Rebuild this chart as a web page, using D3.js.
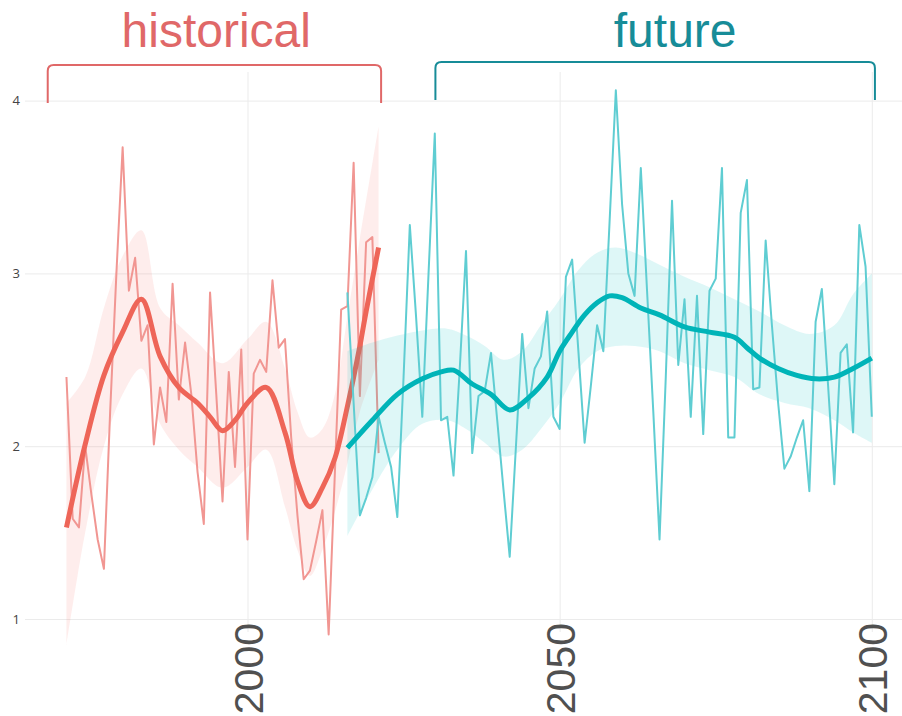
<!DOCTYPE html>
<html>
<head>
<meta charset="utf-8">
<script src="https://cdn.jsdelivr.net/npm/d3@7"></script>
<style>
  html, body { margin: 0; padding: 0; background: #fff; }
  svg { display: block; }
</style>
</head>
<body>
<svg id="chart" width="902" height="716"></svg>
<script>
// ---- historical series (annual values) ----
const histYears = d3.range(1971, 2022);
const histValues = [
  2.40, 1.58, 1.53, 2.00, 1.72, 1.46, 1.29, 2.20, 3.00, 3.73,
  2.90, 3.09, 2.61, 2.70, 2.01, 2.34, 2.14, 2.94, 2.27, 2.60,
  2.30, 1.85, 1.55, 2.89, 2.30, 1.68, 2.43, 1.88, 2.56, 1.46,
  2.42, 2.50, 2.43, 2.96, 2.57, 2.62, 2.05, 1.60, 1.23, 1.28,
  1.45, 1.63, 0.91, 1.85, 2.79, 2.81, 3.64, 2.29, 3.18, 3.21,
  1.96
];
// smoothed trend and its confidence band
const histSmoothYears = [1971, 1974, 1977, 1980, 1983, 1986, 1989, 1992, 1994, 1996, 1998, 2000, 2003, 2006, 2008, 2010, 2012, 2014, 2016, 2018, 2019, 2021];
const histSmoothValues = [1.53, 2.01, 2.41, 2.66, 2.85, 2.52, 2.34, 2.25, 2.17, 2.09, 2.15, 2.25, 2.34, 2.08, 1.80, 1.65, 1.76, 1.93, 2.23, 2.58, 2.78, 3.15];
const histBandYears = [1971, 1974, 1977, 1980, 1983, 1986, 1989, 1992, 1996, 2000, 2003, 2006, 2008, 2010, 2012, 2014, 2016, 2018, 2021];
const histBandUpper = [2.25, 2.40, 2.80, 3.10, 3.25, 2.80, 2.70, 2.60, 2.48, 2.62, 2.72, 2.45, 2.20, 2.05, 2.10, 2.30, 2.75, 3.20, 3.85];
const histBandLower = [0.85, 1.50, 2.00, 2.30, 2.45, 2.13, 1.98, 1.88, 1.76, 1.88, 1.98, 1.65, 1.40, 1.25, 1.40, 1.62, 1.90, 2.20, 2.50];

// ---- future series (annual values) ----
const futYears = d3.range(2016, 2101);
const futValues = [
  2.89, 2.25, 1.60, 1.70, 1.82, 2.17, 2.02, 1.88, 1.59, 2.40,
  3.28, 2.75, 2.17, 3.00, 3.81, 2.15, 2.17, 1.83, 2.45, 3.13,
  1.96, 2.29, 2.32, 2.54, 2.15, 1.75, 1.36, 2.00, 2.65, 2.22,
  2.45, 2.52, 2.78, 2.17, 2.10, 2.98, 3.08, 2.55, 2.02, 2.35,
  2.70, 2.55, 3.30, 4.06, 3.40, 3.00, 2.87, 3.61, 2.90, 2.20,
  1.46, 2.40, 3.42, 2.47, 2.85, 2.17, 2.87, 2.07, 2.90, 2.97,
  3.61, 2.05, 2.05, 3.35, 3.54, 2.33, 2.34, 3.19, 2.70, 2.25,
  1.87, 1.94, 2.05, 2.15, 1.74, 2.72, 2.91, 2.35, 1.78, 2.54,
  2.59, 2.08, 3.28, 3.04, 2.17
];
const futSmoothYears = [2016, 2020, 2024, 2028, 2031, 2033, 2036, 2039, 2042, 2045, 2048, 2050, 2052, 2054, 2056, 2058, 2060, 2063, 2066, 2070, 2074, 2078, 2080, 2082, 2085, 2088, 2091, 2094, 2097, 2100];
const futSmoothValues = [1.99, 2.15, 2.30, 2.39, 2.43, 2.44, 2.36, 2.30, 2.21, 2.28, 2.40, 2.55, 2.66, 2.76, 2.83, 2.87, 2.86, 2.80, 2.76, 2.69, 2.66, 2.63, 2.57, 2.51, 2.45, 2.41, 2.39, 2.40, 2.45, 2.51];
const futBandYears = [2016, 2020, 2024, 2028, 2032, 2035, 2038, 2041, 2044, 2047, 2050, 2053, 2056, 2059, 2062, 2066, 2070, 2074, 2078, 2082, 2086, 2090, 2094, 2097, 2100];
const futBandUpper = [2.55, 2.60, 2.64, 2.67, 2.68, 2.64, 2.58, 2.50, 2.55, 2.70, 2.85, 3.02, 3.12, 3.15, 3.12, 3.05, 2.98, 2.92, 2.85, 2.78, 2.70, 2.65, 2.70, 2.88, 3.00];
const futBandLower = [1.48, 1.75, 1.98, 2.13, 2.15, 2.10, 2.02, 1.94, 1.98, 2.10, 2.25, 2.45, 2.55, 2.58, 2.58, 2.55, 2.48, 2.44, 2.40, 2.30, 2.25, 2.22, 2.15, 2.08, 2.02];

// ---- axis ticks and period labels ----
const xTicks = [2000, 2050, 2100];
const yTicks = [1, 2, 3, 4];
const periodNames = ["historical", "future"];
const periodStart = [1968.0, 2030.1];
const periodEnd = [2021.4, 2100.5];
const periodLabelAt = [1995.0, 2068.5];

// ---- styling ----
const histColor = { line: "#F19692", smooth: "#EE6558", band: "#F8766D", title: "#E06868" };
const futColor  = { line: "#5FCDD2", smooth: "#00B4B8", band: "#00BFC4", title: "#178C98" };

const svg = d3.select("#chart");
const W = 902, H = 716;
const plot = { left: 25, right: 902, top: 72, bottom: 632 };

const x = d3.scaleLinear().domain([2000, 2100]).range([247.5, 871.8]);
const y = d3.scaleLinear().domain([1, 4]).range([619, 100.6]);

svg.append("rect").attr("width", W).attr("height", H).attr("fill", "#fff");

// horizontal grid + y labels
const yAxis = d3.axisLeft(y).tickValues(yTicks).tickFormat(d3.format("d"))
  .tickSizeInner(-(plot.right - plot.left)).tickSizeOuter(0).tickPadding(5);
const gy = svg.append("g").attr("transform", `translate(${plot.left},0)`).call(yAxis);
gy.select(".domain").remove();
gy.selectAll(".tick line").attr("stroke", "#ebebeb").attr("stroke-width", 1);
gy.selectAll(".tick text").attr("fill", "#444")
  .style("font-family", "'Open Sans', 'Liberation Sans', Arial, sans-serif").style("font-size", "13px");

// vertical grid + rotated x labels
const xAxis = d3.axisBottom(x).tickValues(xTicks).tickFormat(d3.format("d"))
  .tickSizeInner(-(plot.bottom - plot.top)).tickSizeOuter(0);
const gx = svg.append("g").attr("transform", `translate(0,${plot.bottom})`).call(xAxis);
gx.select(".domain").remove();
gx.selectAll(".tick line").attr("stroke", "#ebebeb").attr("stroke-width", 1);
gx.selectAll(".tick text")
  .attr("transform", "rotate(-90)")
  .attr("text-anchor", "end")
  .attr("x", 9).attr("y", 0).attr("dy", "0.36em")
  .attr("fill", "#505050")
  .style("font-family", "'Liberation Sans', Arial, sans-serif")
  .style("font-size", "41px");

// generators
const lineGen = d3.line().x(d => x(d[0])).y(d => y(d[1]));
const smoothGen = d3.line().x(d => x(d[0])).y(d => y(d[1])).curve(d3.curveCatmullRom.alpha(0.5));
const bandGen = d3.area().x(d => x(d[0])).y0(d => y(d[1])).y1(d => y(d[2])).curve(d3.curveCatmullRom.alpha(0.5));

function drawSeries(years, values, sYears, sValues, bYears, bUp, bLo, col) {
  const g = svg.append("g");
  g.append("path")
    .datum(bYears.map((yr, i) => [yr, bLo[i], bUp[i]]))
    .attr("d", bandGen)
    .attr("fill", col.band).attr("fill-opacity", 0.13);
  g.append("path")
    .datum(years.map((yr, i) => [yr, values[i]]))
    .attr("d", lineGen)
    .attr("fill", "none").attr("stroke", col.line).attr("stroke-width", 2)
    .attr("stroke-linejoin", "round");
  g.append("path")
    .datum(sYears.map((yr, i) => [yr, sValues[i]]))
    .attr("d", smoothGen)
    .attr("fill", "none").attr("stroke", col.smooth).attr("stroke-width", 5)
    .attr("stroke-linecap", "butt").attr("stroke-linejoin", "round");
}

drawSeries(histYears, histValues, histSmoothYears, histSmoothValues,
  histBandYears, histBandUpper, histBandLower, histColor);
drawSeries(futYears, futValues, futSmoothYears, futSmoothValues,
  futBandYears, futBandUpper, futBandLower, futColor);

// period brackets with labels
const bracketTop = [65, 62];
const bracketBottom = [103, 100];
const periodColors = [histColor.title, futColor.title];
periodNames.forEach((name, i) => {
  const x0 = x(periodStart[i]), x1 = x(periodEnd[i]);
  const yt = bracketTop[i], yb = bracketBottom[i], r = 6;
  const p = d3.path();
  p.moveTo(x0, yb);
  p.lineTo(x0, yt + r);
  p.quadraticCurveTo(x0, yt, x0 + r, yt);
  p.lineTo(x1 - r, yt);
  p.quadraticCurveTo(x1, yt, x1, yt + r);
  p.lineTo(x1, yb);
  svg.append("path").attr("d", p.toString())
    .attr("fill", "none").attr("stroke", periodColors[i]).attr("stroke-width", 2);
  svg.append("text")
    .attr("x", x(periodLabelAt[i])).attr("y", 47)
    .attr("text-anchor", "middle")
    .attr("fill", periodColors[i])
    .style("font-family", "'Liberation Sans', Arial, sans-serif")
    .style("font-size", "48px")
    .text(name);
});
</script>
</body>
</html>
